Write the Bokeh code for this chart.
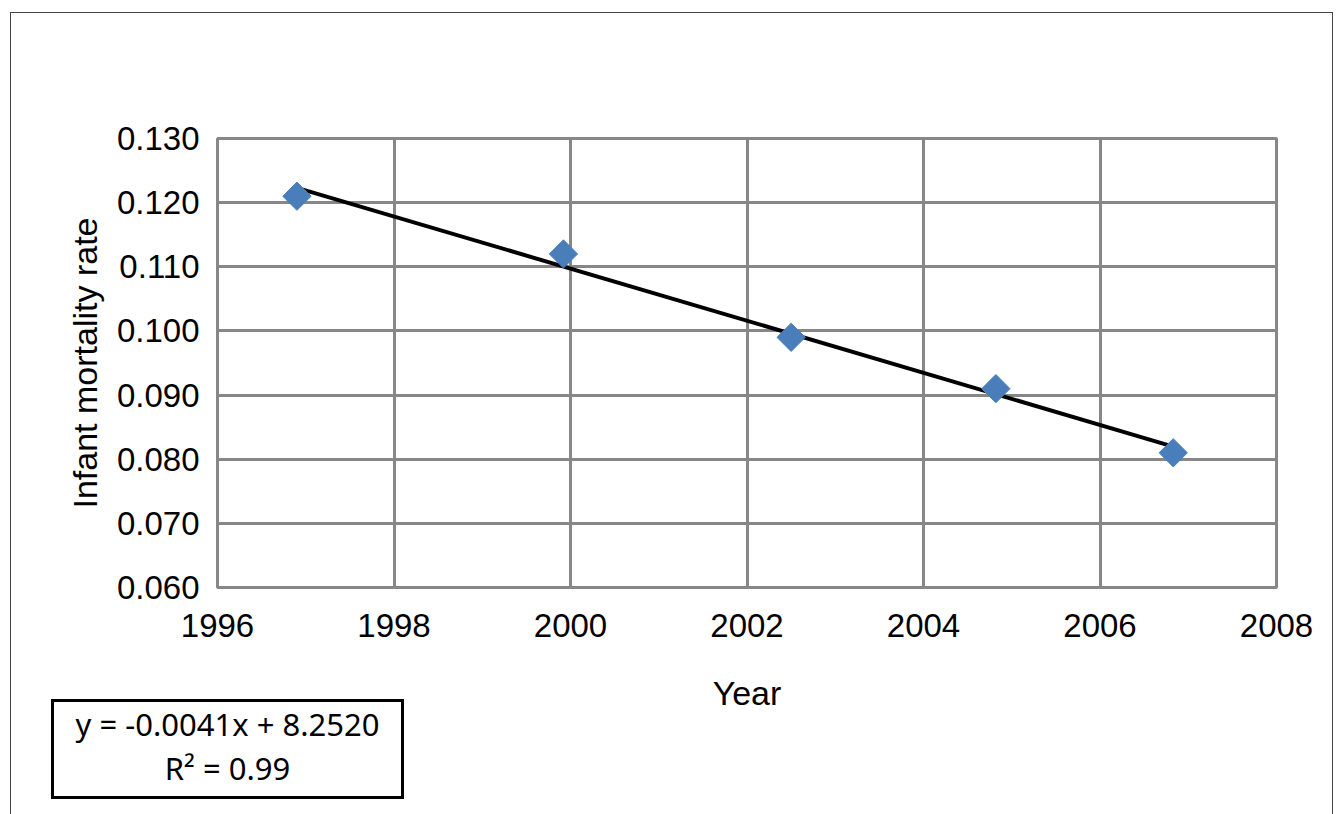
import numpy as np
from bokeh.plotting import figure
from bokeh.layouts import column
from bokeh.models import NumeralTickFormatter, FixedTicker, Range1d, Div
from bokeh.embed import file_html
from bokeh.resources import INLINE

years = [1996.9, 1999.92, 2002.5, 2004.82, 2006.83]
rates = [0.121, 0.112, 0.099, 0.091, 0.081]
x_ticks = [1996, 1998, 2000, 2002, 2004, 2006, 2008]
y_ticks = [0.06, 0.07, 0.08, 0.09, 0.10, 0.11, 0.12, 0.13]
eq_lines = ["y = -0.0041x + 8.2520", "R² = 0.99"]

p = figure(width=1321, height=701, output_backend="svg", toolbar_location=None,
           x_range=Range1d(1996, 2008), y_range=Range1d(0.06, 0.13),
           min_border_left=206, min_border_right=56, min_border_top=125, min_border_bottom=112)
p.outline_line_color = "#878787"
p.outline_line_width = 3
for ax in (p.xaxis, p.yaxis):
    ax.axis_line_color = None
    ax.major_tick_line_color = None
    ax.minor_tick_line_color = None
    ax.major_label_text_font = "Liberation Sans"
    ax.major_label_text_font_size = "33px"
    ax.major_label_text_color = "black"
    ax.axis_label_text_font = "Liberation Sans"
    ax.axis_label_text_font_size = "34px"
    ax.axis_label_text_font_style = "normal"
    ax.axis_label_text_color = "black"
p.xaxis.ticker = FixedTicker(ticks=x_ticks)
p.yaxis.ticker = FixedTicker(ticks=y_ticks)
p.yaxis.formatter = NumeralTickFormatter(format="0.000")
p.xaxis.axis_label = "Year"
p.yaxis.axis_label = "Infant mortality rate"
p.xaxis.major_label_standoff = 20
p.xaxis.axis_label_standoff = 34
p.yaxis.major_label_standoff = 12
p.yaxis.axis_label_standoff = 10
p.xgrid.ticker = FixedTicker(ticks=x_ticks)
p.ygrid.ticker = FixedTicker(ticks=y_ticks)
p.grid.grid_line_color = "#878787"
p.grid.grid_line_width = 3

m, b = np.polyfit(years, rates, 1)
p.line([years[0], years[-1]], [m * years[0] + b, m * years[-1] + b], color="black", line_width=4)
p.scatter(years, rates, marker="square", angle=np.pi / 4, size=20, color="#4a7ebb")

eq = Div(text="<br>".join(eq_lines), width=347, height=94,
         styles={"border": "3px solid black", "text-align": "center",
                 "font-family": "Noto Sans", "font-size": "31px", "line-height": "44px",
                 "color": "black", "margin-left": "40px", "margin-top": "-15px",
                 "box-sizing": "content-box", "background": "white"})

layout = column(p, eq, spacing=0,
                styles={"border-top": "1.5px solid #444", "border-left": "1.5px solid #444",
                        "border-right": "1.5px solid #444", "margin-top": "12px",
                        "margin-left": "10px", "height": "830px"})

open("out.html", "w").write(file_html(layout, INLINE))
